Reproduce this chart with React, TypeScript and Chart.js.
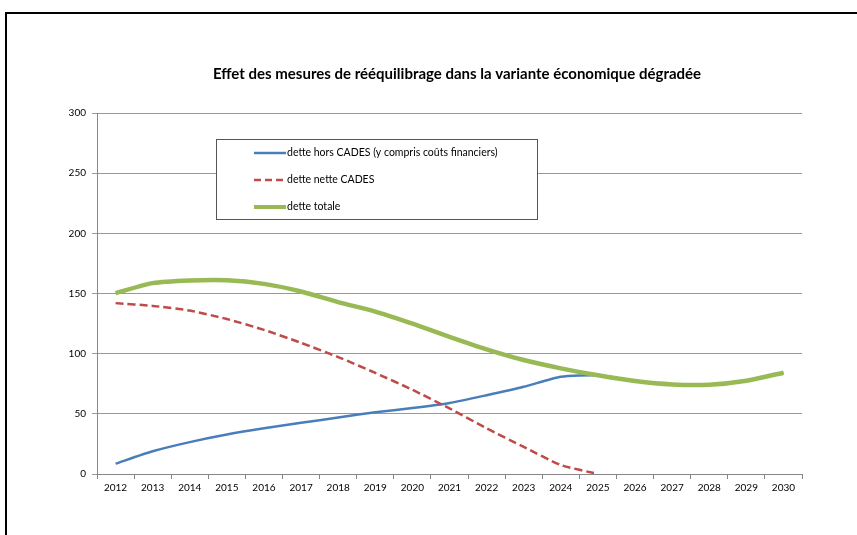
import React, { useEffect, useRef } from "react";
import { Chart, registerables } from "chart.js";

Chart.register(...registerables);

const years = ["2012","2013","2014","2015","2016","2017","2018","2019","2020","2021","2022","2023","2024","2025","2026","2027","2028","2029","2030"];
const detteHorsCades = [8.6, 18.9, 26.5, 32.8, 38, 42.5, 47, 51.3, 54.8, 59, 65.5, 72.5, 80.8, 82, 77.2, 74.4, 74.2, 77.5, 84.2];
const detteNetteCades: (number | null)[] = [142, 139.7, 135.8, 128.8, 119.8, 109, 97.2, 84, 70, 54.5, 38, 22.5, 7.5, 0, null, null, null, null, null];
const detteTotale = [150.3, 158.6, 160.8, 161, 158, 151.7, 142.8, 135, 125, 114, 103.6, 94.7, 87.8, 82, 77.2, 74.4, 74.2, 77.5, 84.2];
const seriesLabels = ["dette hors CADES (y compris coûts financiers)", "dette nette CADES", "dette totale"];
const titleText = "Effet des mesures de rééquilibrage dans la variante économique dégradée";

const BLUE = "#4A7EBB";
const RED = "#BE4B48";
const GREEN = "#98B954";
const FONT = "Lato, 'Liberation Sans', sans-serif";

const overlayPlugin = {
  id: "overlay",
  afterDraw(chart: any) {
    const ctx = chart.ctx;
    ctx.save();
    // title
    ctx.fillStyle = "#000";
    ctx.font = `bold 15px ${FONT}`;
    ctx.textAlign = "center";
    ctx.textBaseline = "middle";
    ctx.fillText(titleText, 457, 74);
    // legend box
    ctx.fillStyle = "#fff";
    ctx.fillRect(216.5, 139.5, 321, 80);
    ctx.strokeStyle = "#555";
    ctx.lineWidth = 1;
    ctx.strokeRect(216.5, 139.5, 321, 80);
    const rows = [153, 180, 207];
    const styles = [
      { c: BLUE, w: 2.5, d: [] as number[], x2: 286 },
      { c: RED, w: 2.5, d: [7, 4], x2: 283 },
      { c: GREEN, w: 4, d: [] as number[], x2: 286 },
    ];
    ctx.font = `10.5px ${FONT}`;
    ctx.textAlign = "left";
    ctx.textBaseline = "middle";
    rows.forEach((y, i) => {
      const s = styles[i];
      ctx.beginPath();
      ctx.setLineDash(s.d);
      ctx.strokeStyle = s.c;
      ctx.lineWidth = s.w;
      ctx.moveTo(254, y);
      ctx.lineTo(s.x2, y);
      ctx.stroke();
      ctx.setLineDash([]);
      ctx.fillStyle = "#000";
      ctx.fillText(seriesLabels[i], 287, y);
    });
    ctx.restore();
  },
};

export default function App() {
  const ref = useRef<HTMLCanvasElement | null>(null);
  useEffect(() => {
    if (!ref.current) return;
    const chart = new Chart(ref.current, {
      type: "line",
      data: {
        labels: years,
        datasets: [
          {
            label: seriesLabels[2],
            data: detteTotale,
            borderColor: GREEN,
            borderWidth: 4.5,
            pointRadius: 0,
            tension: 0.25,
            order: 0,
          },
          {
            label: seriesLabels[0],
            data: detteHorsCades,
            borderColor: BLUE,
            borderWidth: 2.5,
            pointRadius: 0,
            tension: 0.2,
            order: 2,
          },
          {
            label: seriesLabels[1],
            data: detteNetteCades,
            borderColor: RED,
            borderWidth: 2.5,
            borderDash: [8, 4],
            pointRadius: 0,
            tension: 0.2,
            spanGaps: false,
            order: 1,
          },
        ],
      },
      options: {
        animation: false,
        responsive: true,
        maintainAspectRatio: false,
        layout: { padding: { left: 57, right: 55, top: 113, bottom: 31 } },
        plugins: { legend: { display: false }, title: { display: false }, tooltip: { enabled: false } },
        scales: {
          x: {
            offset: true,
            grid: { offset: true, drawOnChartArea: false, tickLength: 5, color: "#868686" },
            border: { color: "#868686" },
            ticks: { font: { family: FONT, size: 10 }, color: "#000", maxRotation: 0, autoSkip: false, padding: 3 },
            afterFit: (s: any) => { s.height = 30; },
          },
          y: {
            min: 0,
            max: 300,
            ticks: { stepSize: 50, font: { family: FONT, size: 10 }, color: "#000", padding: 6 },
            grid: { color: "#999", tickLength: 5 },
            border: { color: "#868686" },
            afterFit: (s: any) => { s.width = 40; },
          },
        },
      },
      plugins: [overlayPlugin],
    });
    return () => chart.destroy();
  }, []);
  return (
    <div style={{ position: "absolute", left: 0, top: 0, width: 857, height: 535, overflow: "hidden", background: "#fff" }}>
      <div style={{ position: "absolute", left: 5, top: 12, width: 900, height: 600, borderLeft: "2px solid #000", borderTop: "2px solid #000" }} />
      <div style={{ position: "absolute", left: 0, top: 0, width: 857, height: 535 }}>
        <canvas ref={ref} />
      </div>
    </div>
  );
}
